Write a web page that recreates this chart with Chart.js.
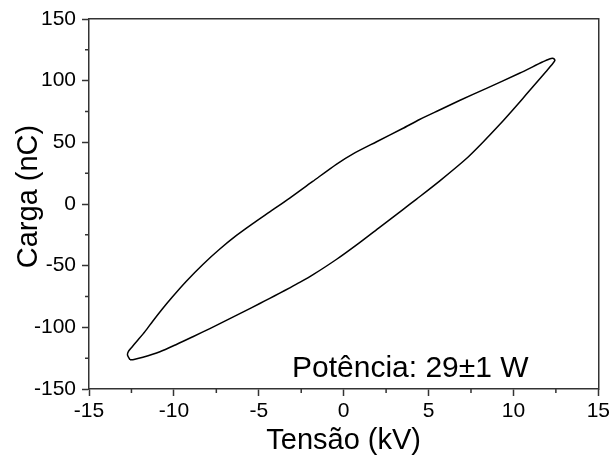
<!DOCTYPE html>
<html>
<head>
<meta charset="utf-8">
<script src="https://cdn.jsdelivr.net/npm/chart.js@4.4.1/dist/chart.umd.min.js"></script>
<style>
html,body{margin:0;padding:0;background:#fff;}
#wrap{width:613px;height:462px;position:relative;}
</style>
</head>
<body>
<div id="wrap"><canvas id="c" width="613" height="462"></canvas></div>
<script>
// Upper branch (rising, from lower-left tip to upper-right tip)
const upperV = [-12.588,-12.735,-12.676,-12.50,-12.194,-11.706,-11.235,-10.706,-10.118,-9.294,-8.294,-7.294,-6.294,-5.353,-4.353,-3.176,-1.824,-0.412,0.529,1.941,3.471,4.471,5.647,6.824,8.412,10.353,11.706,12.118,12.353,12.441];
const upperQ = [-126.3,-122.4,-119.5,-116.5,-111.5,-103.5,-94.8,-85.5,-75.8,-63.0,-49.0,-36.5,-25.3,-15.9,-6.4,4.8,18.3,32.4,40.5,50.5,61.2,68.5,76.2,83.9,93.8,106.0,115.1,117.6,118.0,116.4];
// Lower branch (falling, from upper-right tip back to lower-left tip)
const lowerV = [12.235,11.912,11.529,10.941,10.529,9.882,9.176,8.176,7.235,5.647,4.294,3.471,2.118,0.941,-0.412,-1.824,-2.588,-3.176,-3.765,-4.353,-4.941,-5.941,-6.941,-7.882,-8.882,-9.824,-10.824,-11.824,-12.353,-12.588];
const lowerQ = [112.5,107.3,101.2,91.8,85.2,75.0,64.2,49.7,36.9,18.6,4.0,-4.7,-18.9,-31.3,-44.8,-57.5,-63.6,-68.0,-72.3,-76.5,-80.7,-87.7,-94.6,-101.0,-107.6,-113.7,-119.8,-124.3,-126.0,-126.3];

const xTicks = [-15,-10,-5,0,5,10,15];
const yTicks = [-150,-100,-50,0,50,100,150];
const xMinor = [-12.5,-7.5,-2.5,2.5,7.5,12.5];
const yMinor = [-125,-75,-25,25,75,125];
const xTitle = 'Tensão (kV)';
const yTitle = 'Carga (nC)';
const noteText = 'Potência: 29±1 W';

const pts = [];
upperV.forEach((v,i)=>pts.push({x:v,y:upperQ[i]}));
lowerV.forEach((v,i)=>pts.push({x:v,y:lowerQ[i]}));

const FONT = "'Liberation Sans', Arial, sans-serif";
const AX = '#333';

const extras = {
  id:'extras',
  afterDraw(chart){
    const ctx = chart.ctx;
    const xs = chart.scales.x, ys = chart.scales.y;
    ctx.save();
    ctx.strokeStyle = AX;
    ctx.lineWidth = 1.5;
    ctx.beginPath();
    xMinor.forEach(v=>{
      const p = xs.getPixelForValue(v);
      ctx.moveTo(p, xs.top); ctx.lineTo(p, xs.top+4);
    });
    yMinor.forEach(v=>{
      const p = ys.getPixelForValue(v);
      ctx.moveTo(ys.right, p); ctx.lineTo(ys.right-4, p);
    });
    ctx.stroke();
    ctx.fillStyle = '#000';
    // annotation
    ctx.font = '30px ' + FONT;
    ctx.textAlign = 'left';
    ctx.textBaseline = 'alphabetic';
    ctx.fillText(noteText, 292, 377);
    // y axis title
    ctx.font = '29px ' + FONT;
    ctx.textAlign = 'center';
    ctx.textBaseline = 'middle';
    ctx.translate(28.5, 196.5);
    ctx.rotate(-Math.PI/2);
    ctx.fillText(yTitle, 0, 0);
    ctx.restore();
  }
};

new Chart(document.getElementById('c'), {
  type:'scatter',
  data:{datasets:[{
    data:pts,
    showLine:true,
    borderColor:'#000',
    borderWidth:1.5,
    pointRadius:0,
    tension:0.25,
    fill:false
  }]},
  options:{
    responsive:false,
    animation:false,
    devicePixelRatio:1,
    layout:{padding:{top:19,right:14,left:0,bottom:0}},
    plugins:{legend:{display:false},tooltip:{enabled:false}},
    scales:{
      x:{
        type:'linear', position:'bottom', min:-15, max:15,
        afterBuildTicks(s){ s.ticks = xTicks.map(v=>({value:v})); },
        afterFit(s){ s.height = 73; },
        ticks:{color:'#000', font:{family:FONT,size:21}, padding:3, maxRotation:0},
        grid:{display:true, drawOnChartArea:false, drawTicks:true, tickLength:7, tickColor:AX, tickWidth:1.5},
        border:{display:true, color:AX, width:1.5},
        title:{display:true, text:xTitle, color:'#000', font:{family:FONT,size:29}, padding:{top:0,bottom:4}}
      },
      y:{
        type:'linear', position:'left', min:-150, max:150,
        afterBuildTicks(s){ s.ticks = yTicks.map(v=>({value:v})); },
        afterFit(s){ s.width = 89; },
        ticks:{color:'#000', font:{family:FONT,size:21}, padding:6},
        grid:{display:true, drawOnChartArea:false, drawTicks:true, tickLength:7, tickColor:AX, tickWidth:1.5},
        border:{display:true, color:AX, width:1.5},
        title:{display:false, text:yTitle}
      },
      x2:{
        type:'linear', position:'top', min:-15, max:15,
        ticks:{display:false}, grid:{display:false, drawTicks:false},
        border:{display:true, color:AX, width:1.5}
      },
      y2:{
        type:'linear', position:'right', min:-150, max:150,
        ticks:{display:false}, grid:{display:false, drawTicks:false},
        border:{display:true, color:AX, width:1.5}
      }
    }
  },
  plugins:[extras]
});
</script>
</body>
</html>
